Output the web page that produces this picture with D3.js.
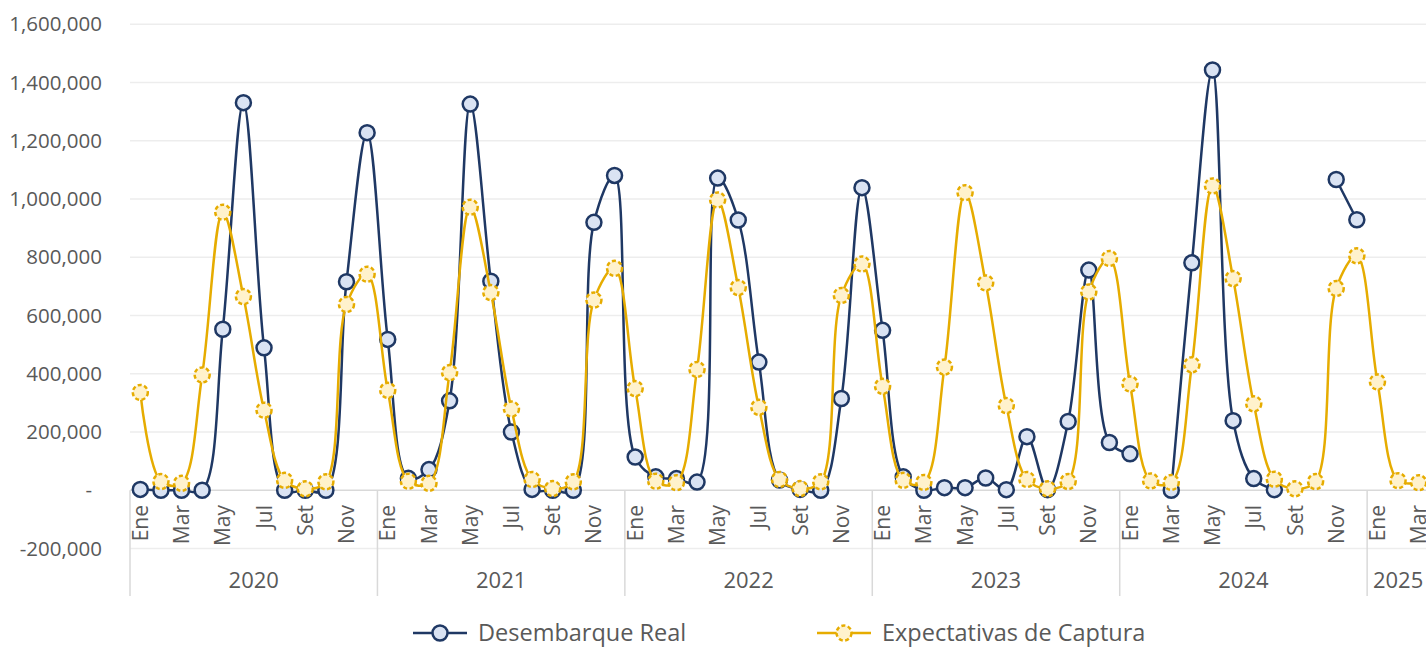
<!DOCTYPE html>
<html>
<head>
<meta charset="utf-8">
<script src="https://cdn.jsdelivr.net/npm/d3@7"></script>
<style>
  body { margin: 0; background: #fff; }
  text { font-family: "Open Sans", sans-serif; fill: #595959; }
</style>
</head>
<body>
<svg id="chart" width="1426" height="647"></svg>
<script>
// --- data ---
const monthNames = ["Ene", "Feb", "Mar", "Abr", "May", "Jun", "Jul", "Ago", "Set", "Oct", "Nov", "Dic"];
const years = [2020, 2021, 2022, 2023, 2024, 2025];
const monthsInYear = [12, 12, 12, 12, 12, 3];

// Desembarque Real (null = sin dato)
const desembarqueReal = [
  3000, 0, 0, 0, 553000, 1331000, 489000, 0, 0, 0, 716000, 1228000,
  518000, 41000, 71000, 307000, 1326000, 718000, 200000, 3000, 0, 0, 920000, 1081000,
  114000, 46000, 40000, 28000, 1072000, 928000, 440000, 35000, 3000, 0, 315000, 1039000,
  549000, 46000, 0, 9000, 9000, 42000, 2000, 184000, 2000, 236000, 756000, 164000,
  125000, null, 0, 781000, 1443000, 239000, 40000, 2000, null, null, 1067000, 929000,
  null, null, null
];

// Expectativas de Captura
const expectativasCaptura = [
  336000, 30000, 24000, 396000, 955000, 665000, 275000, 34000, 5000, 29000, 638000, 742000,
  343000, 31000, 24000, 404000, 972000, 679000, 279000, 37000, 6000, 29000, 653000, 762000,
  349000, 31000, 26000, 415000, 997000, 696000, 285000, 37000, 6000, 29000, 669000, 777000,
  357000, 34000, 27000, 423000, 1022000, 712000, 291000, 37000, 5000, 30000, 681000, 796000,
  365000, 32000, 27000, 431000, 1045000, 727000, 297000, 38000, 5000, 30000, 693000, 805000,
  372000, 33000, 26000
];

const yTicks = [-200000, 0, 200000, 400000, 600000, 800000, 1000000, 1200000, 1400000, 1600000];

// periods
const periods = [];
years.forEach((yr, yi) => {
  for (let m = 0; m < monthsInYear[yi]; m++) {
    periods.push({ year: yr, month: monthNames[m], m: m, i: periods.length });
  }
});

const navy = "#1F3864", navyFill = "#DAE3F3";
const gold = "#E6AC00", goldFill = "#FFF2CC";

const svg = d3.select("#chart");

const x = d3.scaleBand().domain(periods.map(p => p.i)).range([130, 1429]);
const y = d3.scaleLinear().domain([-200000, 1600000]).range([548.5, 24.3]);
const cx = i => x(i) + x.bandwidth() / 2;

// gridlines
svg.append("g").selectAll("line")
  .data(yTicks.filter(t => t !== 0))
  .join("line")
  .attr("x1", 130).attr("x2", 1426)
  .attr("y1", d => y(d)).attr("y2", d => y(d))
  .attr("stroke", "#EDEDED").attr("stroke-width", 1.5);

// y axis labels
const fmt = d3.format(",");
const yAxis = svg.append("g")
  .attr("transform", "translate(102,0)")
  .call(d3.axisLeft(y).tickValues(yTicks).tickSize(0).tickPadding(0)
    .tickFormat(d => d === 0 ? "-" : (d < 0 ? "-" + fmt(-d) : fmt(d))));
yAxis.select(".domain").remove();
yAxis.selectAll("text")
  .attr("font-size", 20.5)
  .attr("fill", "#595959")
  .attr("font-family", "Open Sans, sans-serif")
  .attr("dx", d => d === 0 ? -10 : 0);

// category axis: zero line, separators
svg.append("line")
  .attr("x1", 130).attr("x2", 1426)
  .attr("y1", y(0)).attr("y2", y(0))
  .attr("stroke", "#D9D9D9").attr("stroke-width", 1.5);

const yearStarts = periods.filter(p => p.m === 0);
svg.append("g").selectAll("line")
  .data(yearStarts)
  .join("line")
  .attr("x1", d => x(d.i)).attr("x2", d => x(d.i))
  .attr("y1", y(0)).attr("y2", 596)
  .attr("stroke", "#D9D9D9").attr("stroke-width", 1.5);

// month labels (every other month)
svg.append("g").selectAll("text")
  .data(periods.filter(p => p.m % 2 === 0))
  .join("text")
  .attr("transform", d => `translate(${cx(d.i)},505) rotate(-90)`)
  .attr("text-anchor", "end")
  .attr("dy", "0.36em")
  .attr("font-size", 21)
  .text(d => d.month);

// year labels
svg.append("g").selectAll("text")
  .data(years)
  .join("text")
  .attr("x", yr => {
    const ps = periods.filter(p => p.year === yr);
    return (x(ps[0].i) + x(ps[ps.length - 1].i) + x.bandwidth()) / 2;
  })
  .attr("y", 588)
  .attr("text-anchor", "middle")
  .attr("font-size", 22)
  .text(d => d);

// series
const line = d3.line()
  .defined(d => d.v != null)
  .x(d => cx(d.i))
  .y(d => y(d.v))
  .curve(d3.curveCatmullRom);

const series = [
  { name: "Desembarque Real", values: desembarqueReal, stroke: navy, fill: navyFill, dash: null },
  { name: "Expectativas de Captura", values: expectativasCaptura, stroke: gold, fill: goldFill, dash: "4 2.5" }
];

series.forEach(s => {
  const pts = periods.map(p => ({ i: p.i, v: s.values[p.i] === undefined ? null : s.values[p.i] }));
  const g = svg.append("g");
  g.append("path")
    .datum(pts)
    .attr("d", line)
    .attr("fill", "none")
    .attr("stroke", s.stroke)
    .attr("stroke-width", 2.5);
  g.selectAll("circle")
    .data(pts.filter(d => d.v != null))
    .join("circle")
    .attr("cx", d => cx(d.i))
    .attr("cy", d => y(d.v))
    .attr("r", 7.5)
    .attr("fill", s.fill)
    .attr("stroke", s.stroke)
    .attr("stroke-width", 2.5)
    .attr("stroke-dasharray", s.dash);
});

// legend
const legendItems = [
  { s: series[0], x0: 413, text: 478 },
  { s: series[1], x0: 817, text: 882 }
];
const lg = svg.append("g").selectAll("g").data(legendItems).join("g")
  .attr("transform", "translate(0,633)");
lg.append("line")
  .attr("x1", d => d.x0).attr("x2", d => d.x0 + 54)
  .attr("stroke", d => d.s.stroke).attr("stroke-width", 2.5);
lg.append("circle")
  .attr("cx", d => d.x0 + 27).attr("r", 7.5)
  .attr("fill", d => d.s.fill).attr("stroke", d => d.s.stroke)
  .attr("stroke-width", 2.5)
  .attr("stroke-dasharray", d => d.s.dash);
lg.append("text")
  .attr("x", d => d.text)
  .attr("dy", "0.35em")
  .attr("font-size", 23.5)
  .text(d => d.s.name);
</script>
</body>
</html>
